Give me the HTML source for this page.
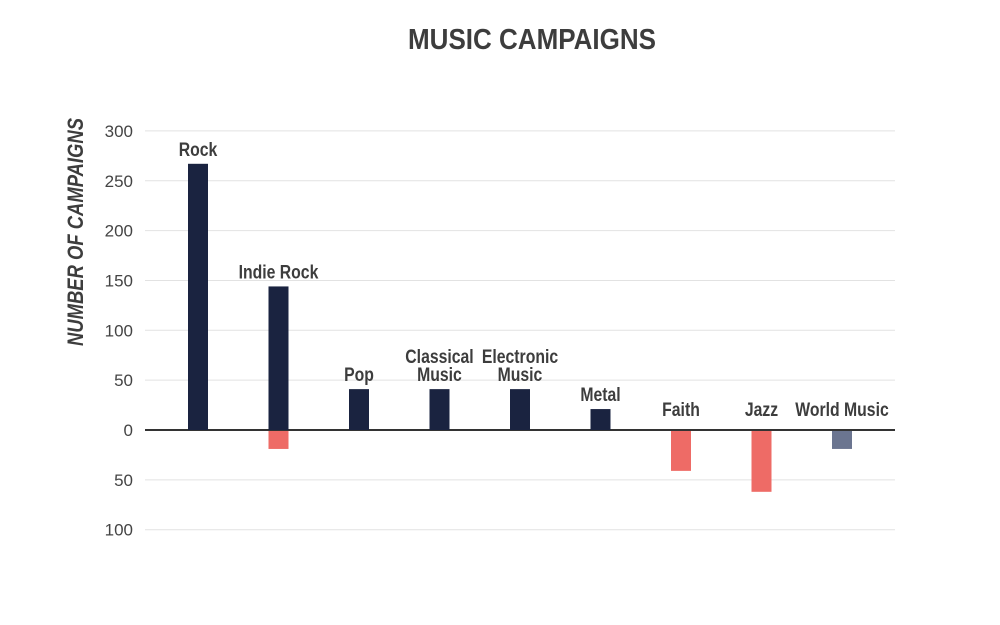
<!DOCTYPE html>
<html><head><meta charset="utf-8"><style>
body{margin:0;background:#fff;}
svg{display:block;font-family:"Liberation Sans Narrow","Liberation Sans",sans-serif;}
</style></head><body>
<svg id="chart" width="1000" height="625">
<text x="532" y="49" text-anchor="middle" font-size="29" font-weight="bold" fill="#3d3d3d" textLength="248" lengthAdjust="spacingAndGlyphs">MUSIC CAMPAIGNS</text>
<text transform="translate(83,232) rotate(-90)" text-anchor="middle" font-size="22" font-weight="bold" font-style="italic" fill="#3d3d3d" textLength="228" lengthAdjust="spacingAndGlyphs">NUMBER OF CAMPAIGNS</text>
<g id="grid"></g><g id="bars"></g><g id="labels"></g>
</svg>
<script>
const categories=["Rock","Indie Rock","Pop","Classical Music","Electronic Music","Metal","Faith","Jazz","World Music"];
const positiveValues=[267,144,41,41,41,21,0,0,0];
const negativeValues=[0,19,0,0,0,0,41,62,19];
const tickValues=[300,250,200,150,100,50,0,-50,-100];
const tickLabels=["300","250","200","150","100","50","0","50","100"];
const NS="http://www.w3.org/2000/svg";
const y=v=>430-v*0.997;
const x=i=>198+i*80.5;
function mk(t,a,p){const e=document.createElementNS(NS,t);for(const k in a)e.setAttribute(k,a[k]);document.getElementById(p).appendChild(e);return e;}
tickValues.forEach((v,i)=>{
  const l=mk("line",{x1:145,x2:895,y1:y(v),y2:y(v),stroke:v===0?"#333":"#e2e2e2","stroke-width":v===0?2:1},"grid");
  
  
  const t=mk("text",{x:133,y:y(v)+6,"text-anchor":"end","font-size":17,fill:"#444"},"grid");
  t.textContent=tickLabels[i];
  
  
});
categories.forEach((c,i)=>{
  const p=positiveValues[i],n=negativeValues[i];
  if(p>0){const r=mk("rect",{x:x(i)-10,y:y(p),width:20,height:y(0)-y(p),fill:"#1a2340"},"bars");
    
    }
  if(n>0){const r=mk("rect",{x:x(i)-10,y:y(0)+1,width:20,height:y(-n)-y(0)-1,fill:i===8?"#6b7590":"#ee6b66"},"bars");
    
    }
  const words=c.split(" ");
  const lines=(c==="Indie Rock"||c==="World Music")?[c]:words;
  const top=p>0?y(p):y(0)-6;
  const base=top-8-(lines.length-1)*18;
  lines.forEach((w,j)=>{
    const t=mk("text",{x:x(i),y:base+j*18,"text-anchor":"middle","font-size":19,"font-weight":"bold",fill:"#3d3d3d","class":"cond"},"labels");
    t.textContent=w;
    
    
  });
});
document.querySelectorAll('.cond').forEach(t=>{
  const w=t.getComputedTextLength();
  t.setAttribute('textLength',(w*0.83).toFixed(1));
  t.setAttribute('lengthAdjust','spacingAndGlyphs');
});
</script>
</body></html>
